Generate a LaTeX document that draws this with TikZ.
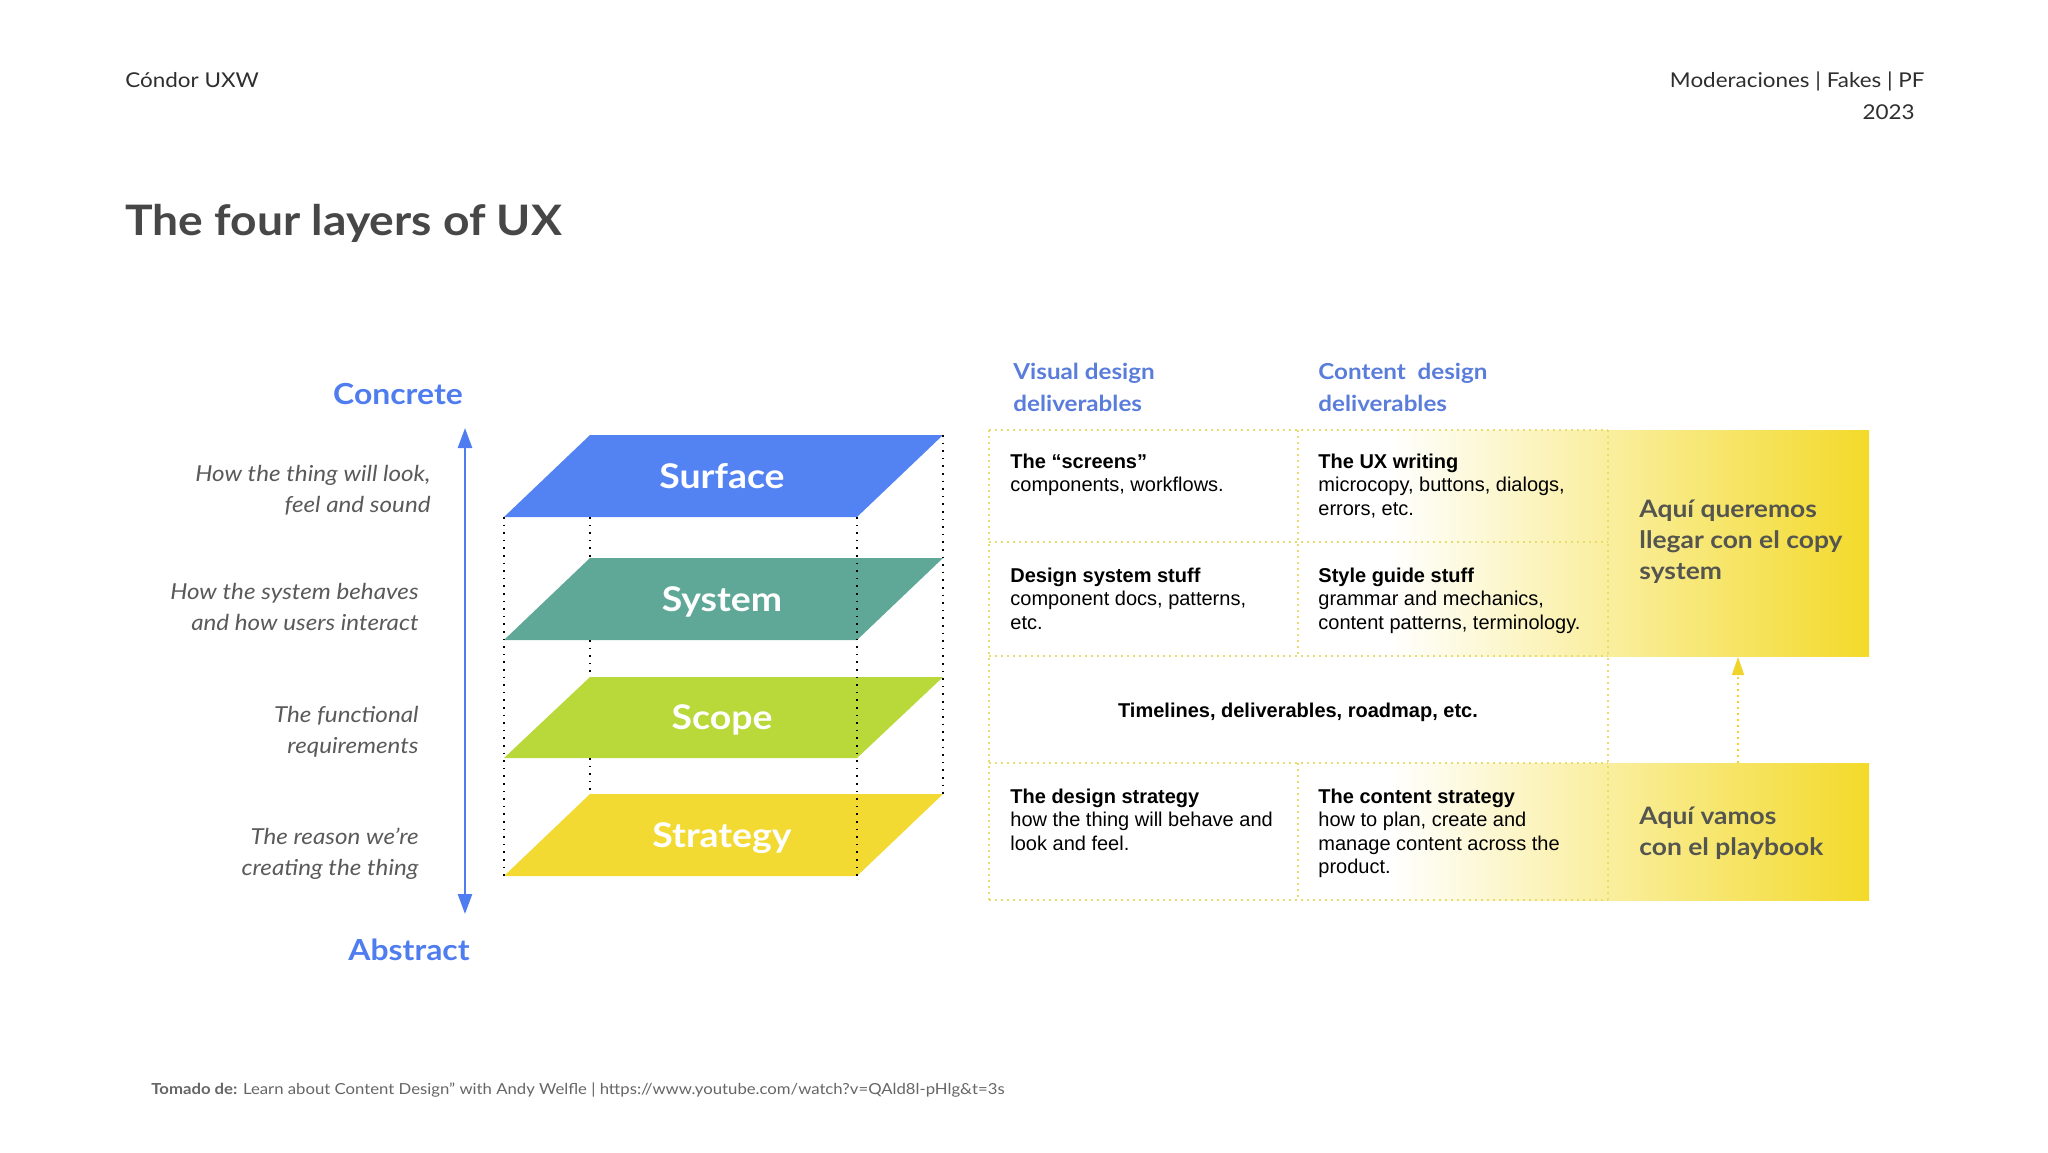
\documentclass[tikz,border=0pt]{standalone}
\usepackage{fontspec}
\setmainfont{Lato}[FakeStretch=1.1]
\newfontfamily\arialf{Liberation Sans}
\usetikzlibrary{arrows.meta}
\definecolor{surf}{HTML}{5383F2}
\definecolor{syst}{HTML}{5FA898}
\definecolor{scop}{HTML}{B9D93B}
\definecolor{strat}{HTML}{F2DA32}
\definecolor{lblue}{HTML}{4F7DF0}
\definecolor{hblue}{HTML}{5A7DDB}
\definecolor{dgray}{HTML}{474747}
\definecolor{hdgray}{HTML}{2E2E2E}
\definecolor{notegray}{HTML}{5A5A5A}
\definecolor{ygray}{HTML}{555550}
\definecolor{ygrid}{HTML}{E6DD6E}
\definecolor{ymid}{HTML}{F8EE9E}
\definecolor{yend}{HTML}{F3DA2A}
\definecolor{yarr}{HTML}{F0D429}
\definecolor{footgray}{HTML}{666666}
\newcommand{\Lft}[1]{\begin{tabular}[t]{@{}l@{}}#1\end{tabular}}
\newcommand{\Rgt}[1]{\begin{tabular}[t]{@{}r@{}}#1\end{tabular}}
\tikzset{
  layerlabel/.style={text=white, anchor=base, inner sep=0, font=\bfseries\fontsize{17}{20}\selectfont},
  sidenote/.style={anchor=base east, inner sep=0, text=notegray, font=\itshape\fontsize{11}{15.5}\selectfont},
  pole/.style={anchor=base, inner sep=0, text=lblue, font=\bfseries\fontsize{14.5}{17}\selectfont},
  colhead/.style={anchor=base west, inner sep=0, text=hblue, font=\bfseries\fontsize{11}{16}\selectfont},
  cell/.style={anchor=base west, inner sep=0, text=black, font=\arialf\fontsize{10}{11.8}\selectfont},
  goaltext/.style={anchor=base west, inner sep=0, text=ygray, font=\bfseries\fontsize{12}{15.5}\selectfont},
  gridline/.style={ygrid, line width=0.8pt, dash pattern=on 0.8pt off 2.2pt},
  guide/.style={black, line width=0.8pt, dash pattern=on 0.8pt off 3pt},
  axisarrow/.style={lblue, line width=1.3pt, {Triangle[width=7pt,length=10pt]}-{Triangle[width=7pt,length=10pt]}},
  yarrow/.style={yarr, line width=0.8pt, dash pattern=on 0.8pt off 2.2pt, -{Triangle[width=6pt,length=9pt]}},
  yshade/.style={left color=white, middle color=ymid, right color=yend},
  plain/.style={inner sep=0, text=hdgray, font=\fontsize{10.2}{12}\selectfont},
}
\begin{document}
\begin{tikzpicture}[x=0.5pt,y=-0.5pt]
\useasboundingbox[fill=white] (0,0) rectangle (2048,1152);

% header
\node[plain, anchor=base west] (brand) at (125,87) {Cóndor UXW};
\node[plain, anchor=base east] (meta) at (1925,87) {Moderaciones | Fakes | PF};
\node[plain, anchor=base east] (year) at (1915,119) {2023};
\node[anchor=base west, inner sep=0, text=dgray, font=\bfseries\fontsize{21}{24}\selectfont] (title) at (125,235) {The four layers of UX};

% yellow gradient boxes
\shade[yshade] (1390,430) rectangle (1869,656);
\shade[yshade] (1390,763) rectangle (1869,900);

% grid
\draw[gridline] (989,430) -- (1608,430);
\draw[gridline] (989,542) -- (1608,542);
\draw[gridline] (989,656) -- (1608,656);
\draw[gridline] (989,763) -- (1608,763);
\draw[gridline] (989,900) -- (1608,900);
\draw[gridline] (989,430) -- (989,900);
\draw[gridline] (1298,430) -- (1298,656);
\draw[gridline] (1298,763) -- (1298,900);
\draw[gridline] (1608,430) -- (1608,900);

% layers
\fill[surf] (504,517) -- (590,435) -- (943,435) -- (857,517) -- cycle;
\fill[syst] (504,640) -- (590,558) -- (943,558) -- (857,640) -- cycle;
\fill[scop] (504,758) -- (590,677) -- (943,677) -- (857,758) -- cycle;
\fill[strat] (504,876) -- (590,794) -- (943,794) -- (857,876) -- cycle;

% guides
\draw[guide] (504,517) -- (504,876);
\draw[guide] (590,517) -- (590,558);
\draw[guide] (590,640) -- (590,677);
\draw[guide] (590,758) -- (590,794);
\draw[guide] (857,517) -- (857,876);
\draw[guide] (943,435) -- (943,794);

\node[layerlabel] (lsurf) at (722,488) {Surface};
\node[layerlabel] (lsyst) at (722,611) {System};
\node[layerlabel] (lscop) at (722,729) {Scope};
\node[layerlabel] (lstrat) at (722,847) {Strategy};

% axis
\node[pole] (concrete) at (398,404) {Concrete};
\node[pole] (abstract) at (409,960) {Abstract};
\coordinate (axtop) at (465,428);
\coordinate (axbot) at (465,914);
\draw[axisarrow] (axtop) -- (axbot);

\node[sidenote] (n1) at (431,481) {\Rgt{How the thing will look,\\feel and sound}};
\node[sidenote] (n2) at (419,599) {\Rgt{How the system behaves\\and how users interact}};
\node[sidenote] (n3) at (419,722) {\Rgt{The functional\\requirements}};
\node[sidenote] (n4) at (419,844) {\Rgt{The reason we’re\\creating the thing}};

% table headers
\node[colhead] (hv) at (1013,379) {\Lft{Visual design\\deliverables}};
\node[colhead] (hc) at (1318,379) {\Lft{Content\ \ design\\deliverables}};

% cells
\node[cell] (c11) at (1010,468) {\Lft{\textbf{The “screens”}\\components, workflows.}};
\node[cell] (c12) at (1318,468) {\Lft{\textbf{The UX writing}\\microcopy, buttons, dialogs,\\errors, etc.}};
\node[cell] (c21) at (1010,582) {\Lft{\textbf{Design system stuff}\\component docs, patterns,\\etc.}};
\node[cell] (c22) at (1318,582) {\Lft{\textbf{Style guide stuff}\\grammar and mechanics,\\content patterns, terminology.}};
\node[cell, anchor=base] (c3) at (1298,717) {\textbf{Timelines, deliverables, roadmap, etc.}};
\node[cell] (c41) at (1010,803) {\Lft{\textbf{The design strategy}\\how the thing will behave and\\look and feel.}};
\node[cell] (c42) at (1318,803) {\Lft{\textbf{The content strategy}\\how to plan, create and\\manage content across the\\product.}};

% goal texts
\node[goaltext] (goal) at (1639,517) {\Lft{Aquí queremos\\llegar con el copy\\system}};
\node[goaltext] (start) at (1639,824) {\Lft{Aquí vamos\\con el playbook}};
\coordinate (startN) at (1738,763);
\coordinate (goalS) at (1738,657);
\draw[yarrow] (startN) -- (goalS);

% footer
\node[anchor=base west, inner sep=0, text=footgray, font=\fontsize{7.6}{8}\selectfont] (foot) at (151,1094) {\textbf{Tomado de:} Learn about Content Design" with Andy Welfle | https://www.youtube.com/watch?v=QAld8l-pHlg\&t=3s};
\end{tikzpicture}
\end{document}
